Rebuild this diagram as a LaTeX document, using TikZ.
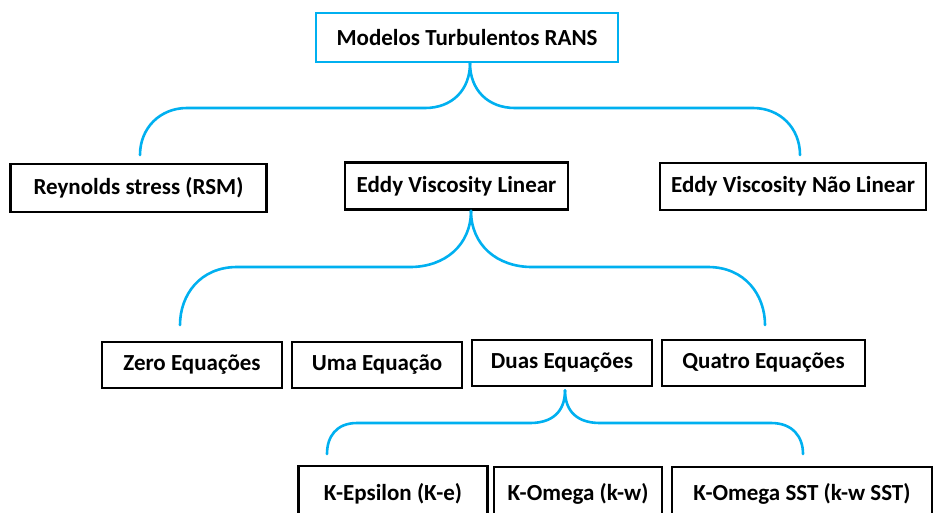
\documentclass[tikz,border=0pt]{standalone}
\usepackage{fontspec}
\setmainfont{Carlito}
\definecolor{bracecol}{RGB}{0,176,240}
\tikzset{
  box/.style={draw=black, line width=2.6pt, fill=white, inner sep=0pt, font=\bfseries\fontsize{23}{26}\selectfont},
  topbox/.style={box, draw=bracecol},
  brace/.style={draw=bracecol, line width=2.6pt, line cap=round}
}
\begin{document}
\begin{tikzpicture}[x=1pt,y=-1pt]
\path[use as bounding box] (0,0) rectangle (936,512);
\clip (0,0) rectangle (936,512);
\fill[white] (0,0) rectangle (936,512);
% nodes
\node[topbox, minimum width=302pt, minimum height=49pt] (top) at (467,37.5) {Modelos Turbulentos RANS};
\node[box, minimum width=256pt, minimum height=48pt] (rsm) at (138.5,188) {Reynolds stress (RSM)};
\node[box, minimum width=223pt, minimum height=47pt] (evl) at (456.5,186) {Eddy Viscosity Linear};
\node[box, minimum width=266pt, minimum height=47pt] (evnl) at (793,186.5) {Eddy Viscosity Não Linear};
\node[box, minimum width=180pt, minimum height=46pt] (zero) at (192,365) {Zero Equações};
\node[box, minimum width=170pt, minimum height=46pt] (uma) at (377,365) {Uma Equação};
\node[box, minimum width=180pt, minimum height=46pt] (duas) at (562,363) {Duas Equações};
\node[box, minimum width=203pt, minimum height=46pt] (quatro) at (763.5,363) {Quatro Equações};
\node[box, minimum width=189pt, minimum height=56pt] (kep) at (393,494) {K-Epsilon (K-e)};
\node[box, minimum width=168pt, minimum height=54pt] (kom) at (578,494) {K-Omega (k-w)};
\node[box, minimum width=260pt, minimum height=54pt] (ksst) at (802,494) {K-Omega SST (k-w SST)};
% brace cusps and end points
\coordinate (c1) at ([xshift=3pt]top.south);
\coordinate (c2) at ([xshift=14.5pt]evl.south);
\coordinate (c3) at ([xshift=3pt,yshift=-3pt]duas.south);
\coordinate (b1l) at (140,155);
\coordinate (b1r) at (800,155);
\coordinate (b2l) at (180,325);
\coordinate (b2r) at (765,325);
\coordinate (b3l) at (327,454);
\coordinate (b3r) at (803,454);
% brace 1
\draw[brace] (c1) .. controls (470,90) and (452,108) .. (425,108)
  -- (187,108) .. controls (160,108) and (140,128) .. (b1l);
\draw[brace] (c1) .. controls (470,90) and (488,108) .. (515,108)
  -- (753,108) .. controls (780,108) and (800,128) .. (b1r);
% brace 2
\draw[brace] (c2) .. controls (471,245) and (445,267) .. (410,267)
  -- (237,267) .. controls (200,267) and (180,295) .. (b2l);
\draw[brace] (c2) .. controls (471,245) and (497,267) .. (532,267)
  -- (708,267) .. controls (745,267) and (765,295) .. (b2r);
% brace 3
\draw[brace] (c3) .. controls (565,412) and (552,423) .. (530,423)
  -- (357,423) .. controls (336,423) and (327,437) .. (b3l);
\draw[brace] (c3) .. controls (565,412) and (578,423) .. (600,423)
  -- (771,423) .. controls (793,423) and (803,437) .. (b3r);
\end{tikzpicture}
\end{document}
